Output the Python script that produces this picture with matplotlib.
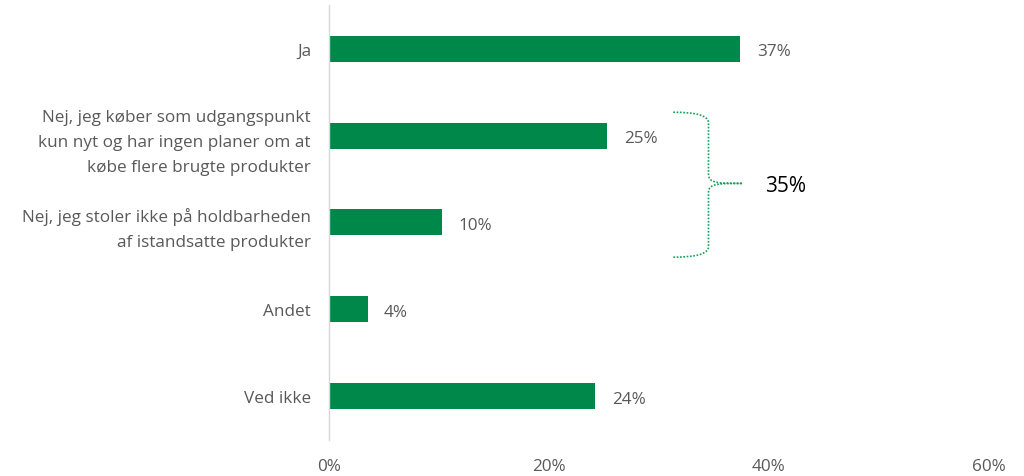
import matplotlib
matplotlib.use("Agg")
import matplotlib.pyplot as plt
from matplotlib.path import Path
from matplotlib.patches import PathPatch

categories = [
    "Ja",
    "Nej, jeg køber som udgangspunkt\nkun nyt og har ingen planer om at\nkøbe flere brugte produkter",
    "Nej, jeg stoler ikke på holdbarheden\naf istandsatte produkter",
    "Andet",
    "Ved ikke",
]
values = [37.4, 25.3, 10.3, 3.5, 24.2]
value_labels = ["37%", "25%", "10%", "4%", "24%"]
xticks = [0, 20, 40, 60]
xtick_labels = ["0%", "20%", "40%", "60%"]
bracket_label = "35%"

plt.rcParams['font.family'] = ['Open Sans', 'DejaVu Sans']
gray = "#595959"
green = "#00884A"

fig = plt.figure(figsize=(10.24, 4.77), dpi=100)
ax = fig.add_axes([0.3213, 0.0765, 0.6445, 0.91])

ypos = list(range(len(categories)))
ax.barh(ypos, values, height=0.3, color=green)
ax.set_ylim(len(categories) - 0.5, -0.5)
ax.set_xlim(0, 60)
ax.set_yticks(ypos)
ax.set_yticklabels(categories, fontsize=12.3, color=gray, linespacing=1.75)
ax.set_xticks(xticks)
ax.set_xticklabels(xtick_labels, fontsize=12.3, color=gray)
ax.tick_params(axis='both', length=0)
ax.tick_params(axis='x', pad=13)
ax.tick_params(axis='y', pad=13)
for s in ["top", "right", "bottom"]:
    ax.spines[s].set_visible(False)
ax.spines["left"].set_color("#D9D9D9")
ax.spines["left"].set_linewidth(1)

for y, v, lab in zip(ypos, values, value_labels):
    ax.text(v + 1.5, y + 0.03, lab, va="center", ha="left", fontsize=12.3, color=gray)

# curly brace annotation
x0, xv, xt = 31.3, 34.5, 37.6
yt, ym, yb = 0.73, 1.55, 2.40
verts = [
    (x0, yt), (xv, yt), (xv, yt + 0.12),
    (xv, ym - 0.1),
    (xv, ym), (xv + 1.0, ym), (xt, ym),
    (xv + 1.0, ym), (xv, ym), (xv, ym + 0.1),
    (xv, yb - 0.12),
    (xv, yb), (x0, yb),
]
codes = [
    Path.MOVETO, Path.CURVE3, Path.CURVE3,
    Path.LINETO,
    Path.CURVE4, Path.CURVE4, Path.CURVE4,
    Path.CURVE4, Path.CURVE4, Path.CURVE4,
    Path.LINETO,
    Path.CURVE3, Path.CURVE3,
]
patch = PathPatch(Path(verts, codes), fill=False, edgecolor="#12A05A",
                  linestyle=(0, (1, 1)), linewidth=1.2, clip_on=False)
ax.add_patch(patch)
ax.text(39.6, ym + 0.02, bracket_label, va="center", ha="left", fontsize=15, color="black")

fig.savefig("out.png", dpi=100)
